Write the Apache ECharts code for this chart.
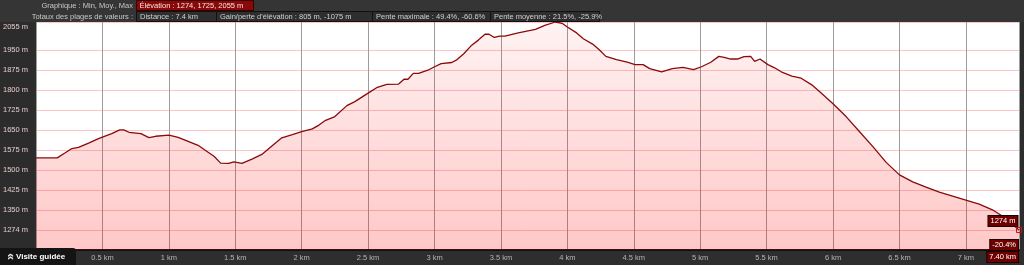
<!DOCTYPE html>
<html>
<head>
<meta charset="utf-8">
<script src="https://cdn.jsdelivr.net/npm/echarts@6/dist/echarts.min.js"></script>
<style>
html,body{margin:0;padding:0;background:#2d2d2d;}
#chart{width:1024px;height:265px;}
</style>
</head>
<body>
<div id="chart"></div>
<script>
// distance along the track (km)
const distanceKm = [0, 0.16, 0.22, 0.27, 0.32, 0.40, 0.47, 0.57, 0.63, 0.66, 0.70, 0.79, 0.85, 0.90, 1.00, 1.07, 1.15, 1.22, 1.29, 1.34, 1.39, 1.45, 1.49, 1.55, 1.63, 1.70, 1.76, 1.85, 1.93, 2.00, 2.08, 2.13, 2.18, 2.25, 2.34, 2.40, 2.50, 2.57, 2.64, 2.73, 2.77, 2.80, 2.84, 2.88, 2.95, 3.00, 3.05, 3.13, 3.17, 3.22, 3.28, 3.33, 3.38, 3.41, 3.45, 3.49, 3.53, 3.63, 3.76, 3.83, 3.91, 3.96, 4.00, 4.07, 4.12, 4.19, 4.24, 4.29, 4.37, 4.45, 4.51, 4.57, 4.62, 4.71, 4.79, 4.87, 4.95, 5.01, 5.08, 5.14, 5.18, 5.23, 5.28, 5.33, 5.38, 5.41, 5.45, 5.51, 5.56, 5.61, 5.69, 5.76, 5.84, 5.90, 6.00, 6.10, 6.20, 6.30, 6.40, 6.50, 6.60, 6.70, 6.80, 6.90, 7.00, 7.10, 7.20, 7.30, 7.40];
// elevation (m)
const elevationM = [1545, 1545, 1564, 1580, 1584, 1601, 1617, 1636, 1650, 1650, 1641, 1636, 1621, 1626, 1630, 1622, 1606, 1592, 1568, 1551, 1525, 1524, 1530, 1524, 1541, 1558, 1583, 1620, 1632, 1643, 1654, 1668, 1686, 1700, 1741, 1756, 1788, 1810, 1821, 1822, 1840, 1840, 1862, 1862, 1874, 1887, 1899, 1903, 1914, 1936, 1968, 1987, 2009, 2009, 1997, 2002, 2002, 2014, 2027, 2042, 2055, 2050, 2036, 2014, 1992, 1972, 1951, 1926, 1914, 1904, 1895, 1895, 1880, 1868, 1880, 1885, 1876, 1887, 1904, 1926, 1922, 1916, 1916, 1925, 1926, 1907, 1916, 1895, 1883, 1868, 1852, 1844, 1819, 1793, 1748, 1699, 1643, 1587, 1528, 1481, 1455, 1435, 1416, 1401, 1386, 1371, 1350, 1318, 1274];
// y tick labels (m)
const yTicks = [1274, 1350, 1425, 1500, 1575, 1650, 1725, 1800, 1875, 1950, 2055];
const yMin = 1199, yMax = 2055;
// x axis
const xMax = 7.4, xInterval = 0.5;
// header texts
const headerRow1Label = 'Graphique : Min, Moy., Max';
const headerRow1Value = 'Élévation : 1274, 1725, 2055 m';
const headerRow2Label = 'Totaux des plages de valeurs :';
const headerRow2Values = ['Distance : 7.4 km', "Gain/perte d'élévation : 805 m, -1075 m", 'Pente maximale : 49.4%, -60.6%', 'Pente moyenne : 21.5%, -25.9%'];
const endSlope = '-20.4%';
const tourLabel = 'Visite guidée';

const FONT = 'Liberation Sans, Arial, sans-serif';
const chart = echarts.init(document.getElementById('chart'), null, {renderer: 'canvas'});

const data = distanceKm.map((d, i) => [d, elevationM[i]]);
const lastKm = distanceKm[distanceKm.length - 1];
const lastElev = elevationM[elevationM.length - 1];

const row2Widths = [80, 156, 118, 109];
const graphics = [
  {type: 'rect', z: -5, shape: {x: 0, y: 0, width: 1024, height: 22}, style: {fill: '#353535'}},
  {type: 'rect', z: -5, shape: {x: 0, y: 22, width: 34, height: 228}, style: {fill: '#2c2c2c'}},
  {type: 'rect', z: -5, shape: {x: 0, y: 250, width: 1024, height: 15}, style: {fill: '#2e2e2e'}},
  {type: 'text', z: 10, style: {text: headerRow1Label, x: 133, y: 5.5, align: 'right', verticalAlign: 'middle', fill: '#c8c8c8', font: '7.5px ' + FONT}},
  {type: 'rect', z: 10, shape: {x: 136.5, y: 0.5, width: 117, height: 10}, style: {fill: '#8a0808', stroke: '#3a0000', lineWidth: 1}},
  {type: 'text', z: 11, style: {text: headerRow1Value, x: 139.5, y: 6, align: 'left', verticalAlign: 'middle', fill: '#f4e4e4', font: '7.5px ' + FONT}},
  {type: 'text', z: 10, style: {text: headerRow2Label, x: 133, y: 16.5, align: 'right', verticalAlign: 'middle', fill: '#c8c8c8', font: '7.5px ' + FONT}}
];
let bx = 136.5;
headerRow2Values.forEach((t, i) => {
  graphics.push({type: 'rect', z: 10, shape: {x: bx, y: 11.5, width: row2Widths[i], height: 10}, style: {fill: '#2e2e2e', stroke: '#111', lineWidth: 1}});
  graphics.push({type: 'text', z: 11, style: {text: t, x: bx + 3.5, y: 16.8, align: 'left', verticalAlign: 'middle', fill: '#d0d0d0', font: '7.5px ' + FONT}});
  bx += row2Widths[i];
});
graphics.push(
  {type: 'rect', z: 50, shape: {x: 0, y: 248, width: 76, height: 17, r: [0, 3, 0, 0]}, style: {fill: '#141414'}},
  {type: 'text', z: 51, x: 10, y: 256.5, rotation: -Math.PI / 2, style: {text: '«', x: 0, y: 0, align: 'center', verticalAlign: 'middle', fill: '#e0e0e0', font: 'bold 12px ' + FONT}},
  {type: 'text', z: 51, style: {text: tourLabel, x: 16, y: 257, align: 'left', verticalAlign: 'middle', fill: '#ffffff', font: 'bold 8px ' + FONT}}
);

const boxLabel = {
  show: true, color: '#ffffff', fontFamily: FONT, fontSize: 7.5,
  backgroundColor: '#6e0000', borderColor: '#1a0000', borderWidth: 1, padding: [1, 2, 1, 2]
};
const hiddenItem = {color: 'rgba(0,0,0,0)', borderWidth: 0};

const option = {
  animation: false,
  backgroundColor: 'transparent',
  grid: {left: 34, right: 5, top: 22, bottom: 15, show: true, backgroundColor: '#ffffff', borderWidth: 0},
  xAxis: {
    type: 'value', min: 0, max: xMax, interval: xInterval,
    axisLine: {show: true, lineStyle: {color: '#111', width: 2}},
    axisTick: {show: false},
    axisLabel: {
      color: '#b4b4b4', fontFamily: FONT, fontSize: 7.5, margin: 4,
      showMaxLabel: false,
      formatter: v => (v === 0 ? '' : v + ' km')
    },
    splitLine: {show: true, lineStyle: {color: '#9c9c9c', width: 1}}
  },
  yAxis: {
    type: 'value', min: yMin, max: yMax,
    axisLine: {show: false},
    axisTick: {show: false, customValues: yTicks},
    axisLabel: {
      customValues: yTicks,
      color: '#e8caca', fontFamily: FONT, fontSize: 7.5, margin: 8,
      formatter: v => (v === yMax ? '{top|' + v + ' m}' : v + ' m'),
      rich: {top: {color: '#e8caca', fontFamily: FONT, fontSize: 7.5, padding: [10, 0, 0, 0]}}
    },
    splitLine: {show: true, lineStyle: {color: '#ffc4c4', width: 1}}
  },
  graphic: graphics,
  series: [{
    type: 'line',
    data: data,
    showSymbol: false,
    symbol: 'none',
    lineStyle: {color: '#8a0a0a', width: 1.3},
    areaStyle: {
      color: new echarts.graphic.LinearGradient(0, 0, 0, 1, [
        {offset: 0, color: 'rgba(255,0,0,0.07)'},
        {offset: 1, color: 'rgba(255,0,0,0.31)'}
      ])
    },
    markPoint: {
      silent: true,
      symbol: 'rect',
      symbolSize: 5,
      itemStyle: {color: 'rgba(0,0,0,0)', borderColor: '#cc1010', borderWidth: 1},
      data: [
        {coord: [lastKm, lastElev], label: Object.assign({}, boxLabel, {formatter: lastElev + ' m', position: [1.5, -1], align: 'right', verticalAlign: 'bottom'})},
        {coord: [lastKm, lastElev], itemStyle: hiddenItem, label: Object.assign({}, boxLabel, {formatter: endSlope, position: [1.5, 12.5], align: 'right', verticalAlign: 'top'})},
        {coord: [lastKm, lastElev], itemStyle: hiddenItem, label: Object.assign({}, boxLabel, {formatter: lastKm.toFixed(2) + ' km', position: [1.5, 24.5], align: 'right', verticalAlign: 'top'})}
      ]
    }
  }]
};
chart.setOption(option);
</script>
</body>
</html>
